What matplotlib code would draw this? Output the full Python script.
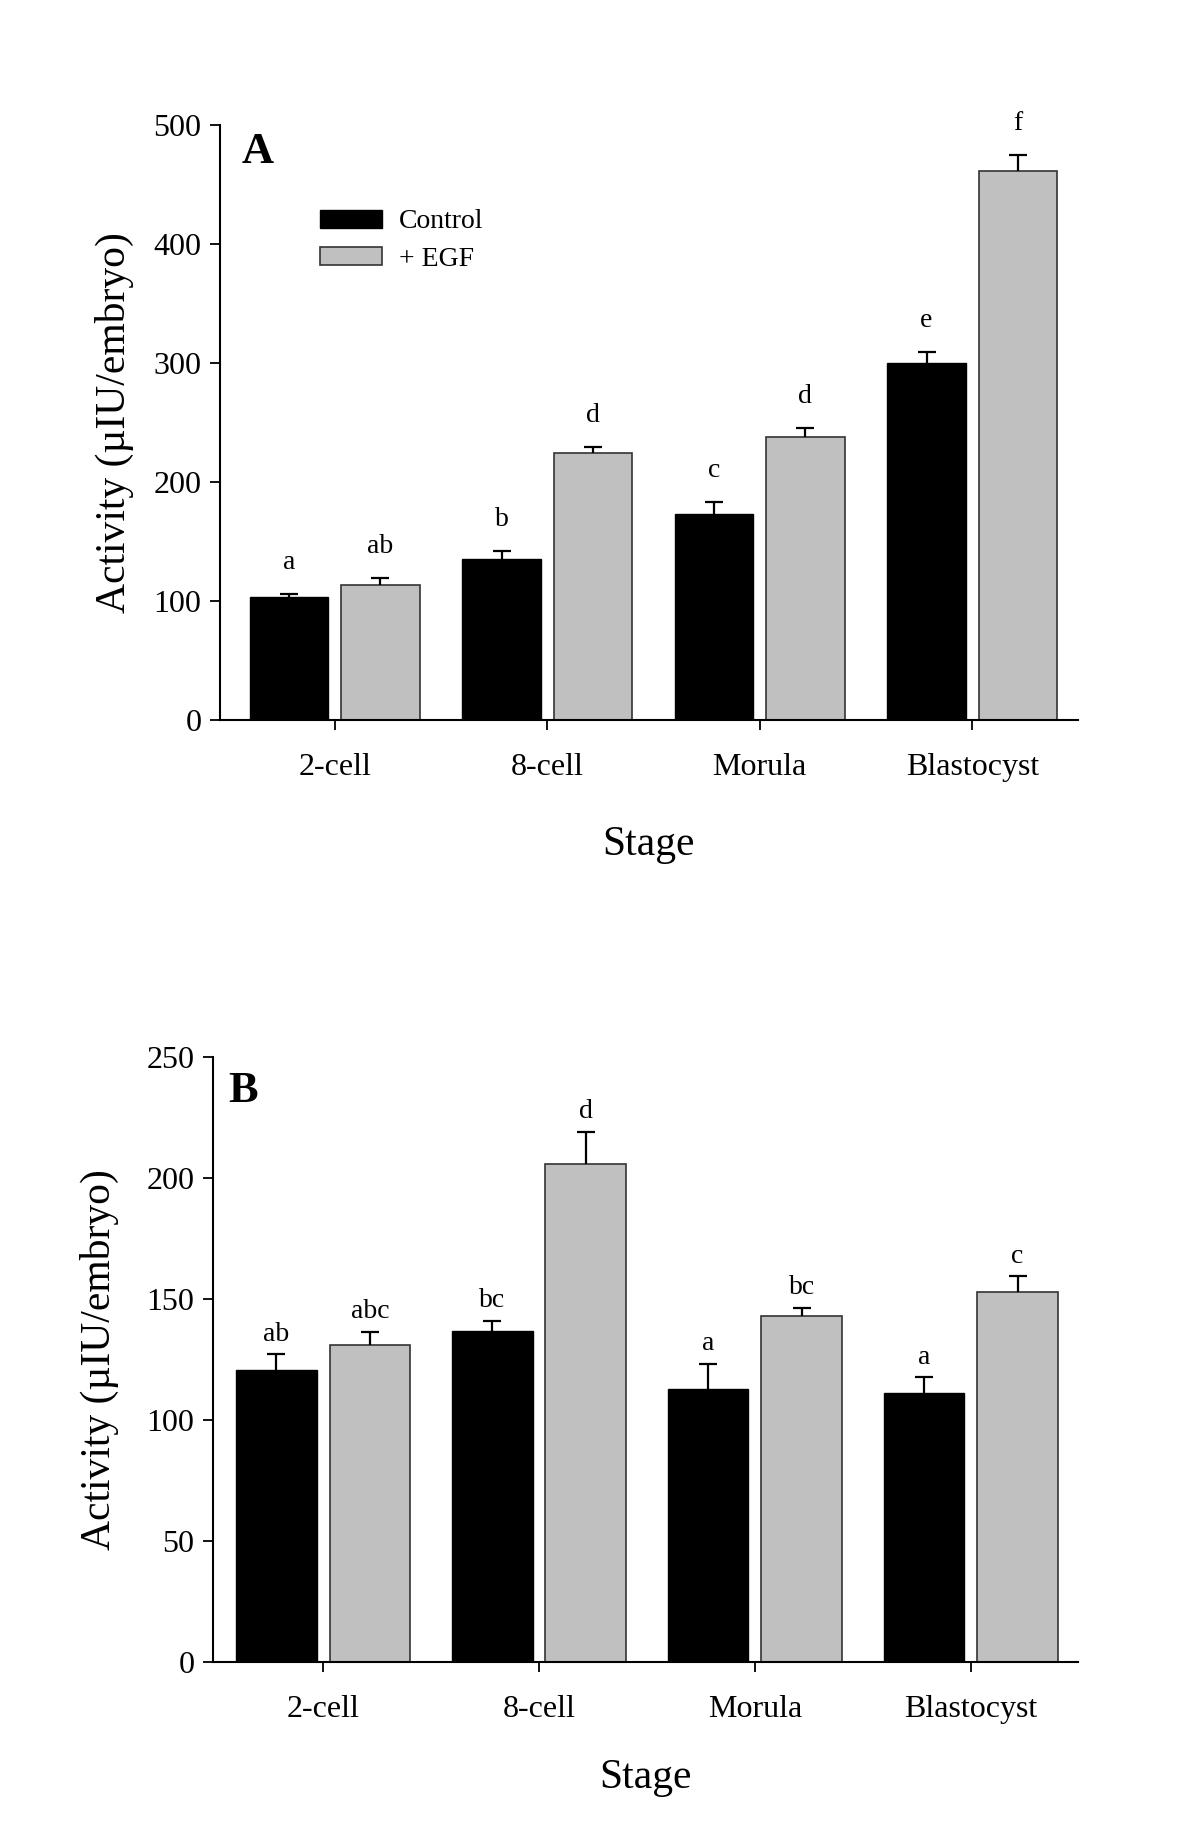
#!/usr/bin/env python3
# Attivita' per stadio embrionale: Control vs + EGF (pannelli A e B)

import numpy as np
import matplotlib
matplotlib.use("Agg")
import matplotlib.pyplot as plt

plt.rcParams["font.family"] = ["Liberation Serif", "DejaVu Serif"]

stages = ["2-cell", "8-cell", "Morula", "Blastocyst"]
series_names = ["Control", "+ EGF"]

# Pannello A
a_control = [103, 135, 173, 300]
a_control_err = [2.5, 7, 10, 9]
a_egf = [113, 224, 238, 461]
a_egf_err = [6.5, 5, 7, 14]
a_control_letters = ["a", "b", "c", "e"]
a_egf_letters = ["ab", "d", "d", "f"]

# Pannello B
b_control = [120.5, 137, 113, 111]
b_control_err = [6.6, 4, 10, 6.6]
b_egf = [131, 206, 143, 153]
b_egf_err = [5.5, 13, 3.5, 6.4]
b_control_letters = ["ab", "bc", "a", "a"]
b_egf_letters = ["abc", "d", "bc", "c"]


def draw_panel(ax, control, control_err, egf, egf_err, l_ctrl, l_egf,
               ymax, ystep, panel, letter_pos, letter_off, xlim, width, off,
               ylabelpad, xlabelpad, legend=False):
    x = np.arange(len(stages))

    ax.bar(x - off, control, width, color="black", edgecolor="black",
           linewidth=1, label=series_names[0], zorder=2)
    ax.bar(x + off, egf, width, color="#c0c0c0", edgecolor="#333333",
           linewidth=1.2, label=series_names[1], zorder=2)

    # barre d'errore solo verso l'alto (niente cap inferiore)
    for xs, vals, errs in [(x - off, control, control_err),
                           (x + off, egf, egf_err)]:
        _, caps, _ = ax.errorbar(xs, vals, yerr=[np.zeros(len(vals)), errs],
                                 fmt="none", ecolor="black", elinewidth=1.6,
                                 capsize=6.5, capthick=1.6, zorder=3)
        caps[0].set_visible(False)

    for xs, vals, errs, labs in [(x - off, control, control_err, l_ctrl),
                                 (x + off, egf, egf_err, l_egf)]:
        for xi, v, e, t in zip(xs, vals, errs, labs):
            ax.annotate(t, (xi, v + e), xytext=(0, letter_off),
                        textcoords="offset points", ha="center",
                        va="baseline", fontsize=20)

    ax.set_xlim(*xlim)
    ax.set_ylim(0, ymax)
    ax.set_yticks(np.arange(0, ymax + 1, ystep))
    ax.set_xticks(x)
    ax.set_xticklabels(stages)
    ax.tick_params(axis="y", labelsize=23, length=7, width=1.3, pad=6,
                   direction="out")
    ax.tick_params(axis="x", labelsize=23, length=7, width=1.3, pad=17,
                   direction="out")
    for s in ["top", "right"]:
        ax.spines[s].set_visible(False)
    for s in ["left", "bottom"]:
        ax.spines[s].set_linewidth(1.5)

    ax.set_xlabel("Stage", fontsize=30, labelpad=xlabelpad)
    ax.set_ylabel("Activity (\u00b5IU/embryo)", fontsize=30,
                  labelpad=ylabelpad)
    ax.text(letter_pos[0], letter_pos[1], panel, transform=ax.transAxes,
            fontsize=32, fontweight="bold", ha="left", va="top")

    if legend:
        ax.legend(loc="upper left", bbox_to_anchor=(0.117, 0.858),
                  frameon=False, fontsize=20, borderpad=0, borderaxespad=0,
                  handlelength=2.25, handleheight=0.62, handletextpad=0.6,
                  labelspacing=0.45)


def main():
    fig = plt.figure(figsize=(12, 18.32), dpi=100)

    ax_a = fig.add_axes([0.183, 0.6071, 0.715, 0.3247])
    draw_panel(ax_a, a_control, a_control_err, a_egf, a_egf_err,
               a_control_letters, a_egf_letters, 500, 100, "A",
               (0.026, 0.988), 18, (-0.542, 3.496), 0.37, 0.215, 14, 31,
               legend=True)

    ax_b = fig.add_axes([0.1772, 0.0930, 0.7208, 0.3298])
    draw_panel(ax_b, b_control, b_control_err, b_egf, b_egf_err,
               b_control_letters, b_egf_letters, 250, 50, "B",
               (0.0185, 0.977), 10, (-0.512, 3.495), 0.374, 0.217, 20, 25)

    fig.savefig("out.png", dpi=100)
    plt.close(fig)


if __name__ == "__main__":
    main()
